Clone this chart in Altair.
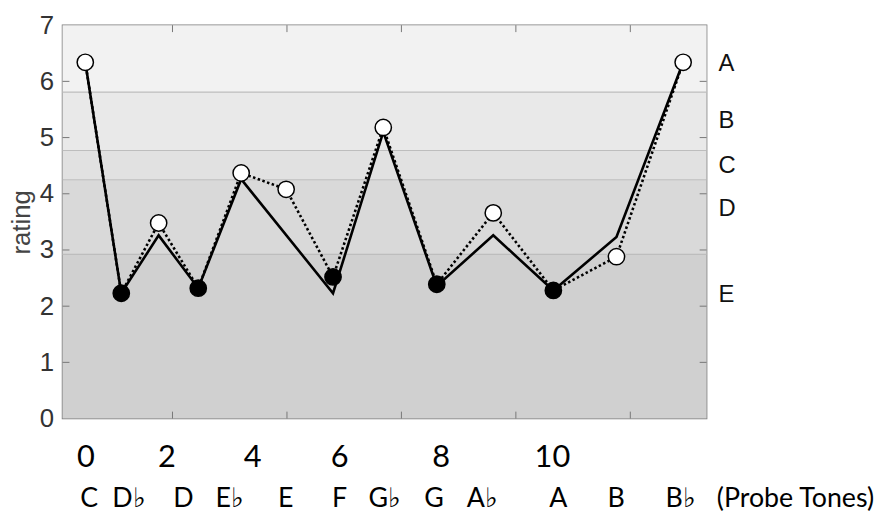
import altair as alt
import pandas as pd

# ---- data ----
pos = [0.476, 1.105, 1.758, 2.450, 3.200, 3.986, 4.805, 5.683, 6.618, 7.605, 8.655, 9.758, 10.923]
probe_rating = [6.34, 2.23, 3.48, 2.32, 4.37, 4.08, 2.52, 5.18, 2.39, 3.66, 2.28, 2.88, 6.34]
filled = [False, True, False, True, False, False, True, False, True, False, True, False, False]

solid_pos = [0.476, 1.105, 1.758, 2.450, 3.200, 4.805, 5.683, 6.618, 7.605, 8.655, 9.758, 10.923]
solid_rating = [6.34, 2.23, 3.26, 2.32, 4.26, 2.23, 5.10, 2.36, 3.26, 2.28, 3.23, 6.34]

band_lo = [0, 2.92, 4.25, 4.77, 5.81]
band_hi = [2.92, 4.25, 4.77, 5.81, 7]
band_names = ["E", "D", "C", "B", "A"]
band_colors = ["#d0d0d0", "#d9d9d9", "#e1e1e1", "#e9e9e9", "#f2f2f2"]
letter_y = [2.2, 3.73, 4.5, 5.3, 6.31]

y_ticks = [0, 1, 2, 3, 4, 5, 6, 7]
x_ticks = [2, 4, 6, 8, 10]

semitone_labels = ["0", "2", "4", "6", "8", "10"]
semitone_x = [0.488, 1.901, 3.402, 4.921, 6.693, 8.638]
note_labels = ["C", "D♭", "D", "E♭", "E", "F", "G♭", "G", "A♭", "A", "B", "B♭"]
note_x = [0.545, 1.238, 2.190, 2.999, 3.979, 4.921, 5.711, 6.571, 7.415, 8.741, 9.752, 10.878]

XMIN, XMAX = 0.078, 11.333

# ---- tables ----
pts = pd.DataFrame({"x": pos, "y": probe_rating, "filled": filled})
solid = pd.DataFrame({"x": solid_pos, "y": solid_rating})
bands = pd.DataFrame({"lo": band_lo, "hi": band_hi, "name": band_names, "color": band_colors})
letters = pd.DataFrame({"x": [11.54] * len(band_names), "y": letter_y, "name": band_names})
nums = pd.DataFrame({"x": semitone_x, "y": [-0.70] * len(semitone_x), "t": semitone_labels})
notes = pd.DataFrame({"x": note_x, "y": [-1.44] * len(note_x), "t": note_labels})
probe = pd.DataFrame({"x": [11.51], "y": [-1.44], "t": ["(Probe Tones)"]})

xs = alt.Scale(domain=[XMIN, XMAX], nice=False, zero=False)
ys = alt.Scale(domain=[0, 7], nice=False, zero=False)
yaxis = alt.Axis(values=y_ticks, title="rating")

X = alt.X("x:Q", scale=xs, axis=None)
Y = alt.Y("y:Q", scale=ys, axis=yaxis)

band_layer = alt.Chart(bands).mark_rect().encode(
    x=alt.value(0), x2=alt.value(650),
    y=alt.Y("lo:Q", scale=ys, axis=yaxis), y2="hi:Q",
    color=alt.Color("color:N", scale=None),
)
band_lines = alt.Chart(bands[bands.lo > 0]).mark_rule(color="#bdbdbd", strokeWidth=1.2).encode(
    x=alt.value(0), x2=alt.value(650), y=alt.Y("lo:Q", scale=ys, axis=yaxis)
)

tick_df = pd.DataFrame({"y": y_ticks[1:-1]})
ytick_l = alt.Chart(tick_df).mark_rule(color="#777777", strokeWidth=1).encode(
    y=Y, x=alt.value(0), x2=alt.value(7))
ytick_r = alt.Chart(tick_df).mark_rule(color="#777777", strokeWidth=1).encode(
    y=Y, x=alt.value(643), x2=alt.value(650))
xt_df = pd.DataFrame({"x": x_ticks})
xtick_t = alt.Chart(xt_df).mark_rule(color="#777777", strokeWidth=1).encode(
    x=X, y=alt.value(0), y2=alt.value(7))
xtick_b = alt.Chart(xt_df).mark_rule(color="#777777", strokeWidth=1).encode(
    x=X, y=alt.value(390), y2=alt.value(397))

solid_line = alt.Chart(solid).mark_line(color="black", strokeWidth=2.6).encode(x=X, y=Y)
dotted_line = alt.Chart(pts).mark_line(color="black", strokeWidth=2.6, strokeDash=[2.5, 2.5]).encode(x=X, y=Y)
points = alt.Chart(pts).mark_point(shape="circle", size=270, strokeWidth=1.5, stroke="black",
                                   filled=True, opacity=1).encode(
    x=X, y=Y,
    fill=alt.condition("datum.filled", alt.value("black"), alt.value("white")),
)

letter_text = alt.Chart(letters).mark_text(align="left", baseline="middle", fontSize=24,
                                          font="Liberation Sans", color="#111111").encode(
    x=X, y=Y, text="name:N")
num_text = alt.Chart(nums).mark_text(align="center", baseline="middle", fontSize=31,
                                     font="Lato", color="black").encode(x=X, y=Y, text="t:N")
note_text = alt.Chart(notes).mark_text(align="center", baseline="middle", fontSize=27,
                                       font="Lato", color="black").encode(x=X, y=Y, text="t:N")
probe_text = alt.Chart(probe).mark_text(align="left", baseline="middle", fontSize=27,
                                        font="Lato", color="black").encode(x=X, y=Y, text="t:N")

chart = alt.layer(
    band_layer, band_lines, ytick_l, ytick_r, xtick_t, xtick_b,
    solid_line, dotted_line, points, letter_text, num_text, note_text, probe_text,
).properties(
    width=650, height=397,
    autosize=alt.AutoSizeParams(type="none"),
    padding={"left": 55, "top": 15, "right": 178, "bottom": 97},
).configure_view(
    stroke="#7a7a7a", strokeWidth=1.5
).configure_axisY(
    domain=False, ticks=False, grid=False,
    labelFontSize=26, labelFont="Liberation Sans", labelColor="#333333",
    labelPadding=9, titleFontSize=26, titleFont="Liberation Sans",
    titleColor="#444444", titleFontWeight="normal", titlePadding=5,
)

chart.save("out.html", embed_options={"renderer": "svg", "actions": False})
